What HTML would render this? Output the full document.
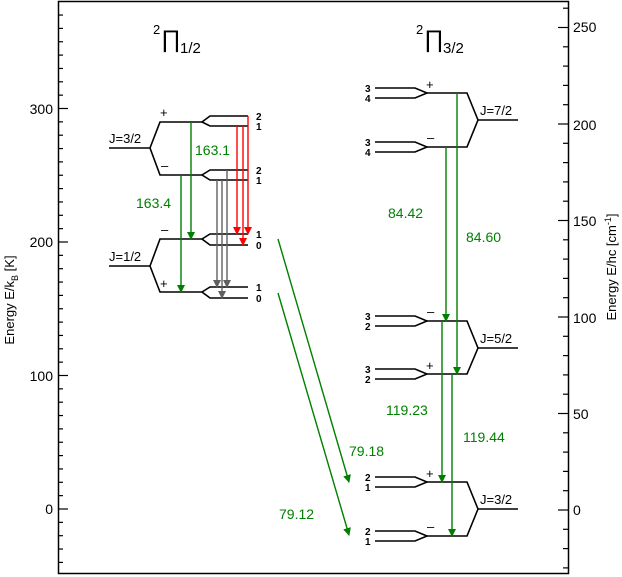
<!DOCTYPE html>
<html><head><meta charset="utf-8"><style>
html,body{margin:0;padding:0;background:#fff;}
svg{display:block;font-family:"Liberation Sans",sans-serif;}
</style></head><body>
<svg id="s" width="622" height="577" viewBox="0 0 622 577" xmlns="http://www.w3.org/2000/svg">
<defs>
<marker id="ag" markerWidth="8" markerHeight="8" refX="7" refY="4" orient="auto" markerUnits="userSpaceOnUse" viewBox="0 0 8 8"><path d="M0,0 L8,4 L0,8 Z" fill="#008000"/></marker>
<marker id="ar" markerWidth="8" markerHeight="8" refX="7" refY="4" orient="auto" markerUnits="userSpaceOnUse" viewBox="0 0 8 8"><path d="M0,0 L8,4 L0,8 Z" fill="#ff0000"/></marker>
<marker id="ak" markerWidth="8" markerHeight="8" refX="7" refY="4" orient="auto" markerUnits="userSpaceOnUse" viewBox="0 0 8 8"><path d="M0,0 L8,4 L0,8 Z" fill="#606060"/></marker>
<marker id="ad" markerWidth="8" markerHeight="8" refX="7" refY="4" orient="auto" markerUnits="userSpaceOnUse" viewBox="0 0 8 8"><path d="M0,0 L8,4 L0,8 Z" fill="#008000"/></marker>
</defs>
<rect x="58.5" y="1.5" width="510" height="572" fill="none" stroke="#000" stroke-width="1.5"/>
<g id="ticks" stroke="#000" stroke-width="1.2"></g>
<g font-size="14" fill="#000" text-anchor="end">
<text x="53" y="114">300</text><text x="53" y="247">200</text><text x="53" y="381">100</text><text x="53" y="514">0</text>
</g>
<g font-size="14" fill="#000">
<text x="573" y="32">250</text><text x="573" y="130">200</text><text x="573" y="226">150</text><text x="573" y="323">100</text><text x="573" y="419">50</text><text x="573" y="515">0</text>
</g>
<text transform="translate(14,300) rotate(-90)" font-size="13" text-anchor="middle">Energy E/k<tspan font-size="9" dy="4">B</tspan><tspan dy="-4"> [K]</tspan></text>
<text transform="translate(616,267) rotate(-90)" font-size="13" text-anchor="middle">Energy E/hc [cm<tspan font-size="9" dy="-5">-1</tspan><tspan dy="5">]</tspan></text>

<g>
<text x="153" y="34" font-size="13">2</text><text x="161" y="47" font-size="24">∏</text><text x="180" y="53" font-size="15">1/2</text>
<text x="416" y="34" font-size="13">2</text><text x="424" y="47" font-size="24">∏</text><text x="443" y="53" font-size="15">3/2</text>
</g>

<g stroke="#000" stroke-width="1.6" fill="none">
<path d="M109,148 H150 L160,122 H202 M150,148 L160,175 H202"/>
<path d="M248,116 H210 L202,122 L210,126 H248"/>
<path d="M248,170 H210 L202,175 L210,180 H248"/>
<path d="M109,266 H150 L160,239 H202 M150,266 L160,292 H202"/>
<path d="M248,234 H210 L202,239 L210,245 H248"/>
<path d="M248,287 H210 L202,292 L210,298 H248"/>
<path d="M518,120 H478 L467,93 H427 M478,120 L467,147 H427"/>
<path d="M375,88 H415 L427,93 L415,98 H375"/>
<path d="M375,142 H415 L427,147 L415,152 H375"/>
<path d="M518,348 H478 L467,321 H427 M478,348 L467,374 H427"/>
<path d="M375,316 H415 L427,321 L415,326 H375"/>
<path d="M375,369 H415 L427,374 L415,379 H375"/>
<path d="M518,509 H478 L467,482 H427 M478,509 L467,536 H427"/>
<path d="M375,477 H415 L427,482 L415,487 H375"/>
<path d="M375,531 H415 L427,536 L415,541 H375"/>
</g>

<g font-size="13" fill="#000">
<text x="109" y="143">J=3/2</text><text x="109" y="261">J=1/2</text>
<text x="480" y="115">J=7/2</text><text x="480" y="343">J=5/2</text><text x="480" y="504">J=3/2</text>
</g>
<g font-size="10" fill="#000" font-weight="bold">
<text x="256" y="120">2</text><text x="256" y="130">1</text>
<text x="256" y="174">2</text><text x="256" y="184">1</text>
<text x="256" y="238">1</text><text x="256" y="249">0</text>
<text x="256" y="291">1</text><text x="256" y="302">0</text>
<text x="365" y="92">3</text><text x="365" y="102">4</text>
<text x="365" y="146">3</text><text x="365" y="156">4</text>
<text x="365" y="320">3</text><text x="365" y="330">2</text>
<text x="365" y="373">3</text><text x="365" y="383">2</text>
<text x="365" y="481">2</text><text x="365" y="491">1</text>
<text x="365" y="535">2</text><text x="365" y="545">1</text>
</g>
<g font-size="13" fill="#000">
<text x="160" y="117">+</text><text x="161" y="170">–</text><text x="161" y="234">–</text><text x="160" y="288">+</text>
<text x="426" y="89">+</text><text x="427" y="142">–</text><text x="427" y="316">–</text><text x="426" y="370">+</text>
<text x="426" y="478">+</text><text x="427" y="531">–</text>
</g>

<g stroke="#008000" stroke-width="1.4">
<line x1="191" y1="122" x2="191" y2="239" marker-end="url(#ag)"/>
<line x1="181" y1="175" x2="181" y2="292" marker-end="url(#ag)"/>
<line x1="446" y1="147" x2="446" y2="321" marker-end="url(#ag)"/>
<line x1="457" y1="93" x2="457" y2="374" marker-end="url(#ag)"/>
<line x1="442" y1="321" x2="442" y2="482" marker-end="url(#ag)"/>
<line x1="452" y1="374" x2="452" y2="536" marker-end="url(#ag)"/>
<line x1="278" y1="239" x2="349" y2="482" marker-end="url(#ad)"/>
<line x1="278" y1="293" x2="349" y2="535" marker-end="url(#ad)"/>
</g>
<g stroke="#ff0000" stroke-width="1.4">
<line x1="237" y1="126" x2="237" y2="234" marker-end="url(#ar)"/>
<line x1="243" y1="126" x2="243" y2="245" marker-end="url(#ar)"/>
<line x1="248" y1="116" x2="248" y2="234" marker-end="url(#ar)"/>
</g>
<g stroke="#606060" stroke-width="1.4">
<line x1="217" y1="180" x2="217" y2="287" marker-end="url(#ak)"/>
<line x1="222" y1="180" x2="222" y2="298" marker-end="url(#ak)"/>
<line x1="227" y1="170" x2="227" y2="287" marker-end="url(#ak)"/>
</g>
<g font-size="14" fill="#008000">
<text x="195" y="155">163.1</text><text x="136" y="208">163.4</text>
<text x="388" y="218">84.42</text><text x="466" y="242">84.60</text>
<text x="386" y="415">119.23</text><text x="463" y="442">119.44</text>
<text x="349" y="456">79.18</text><text x="279" y="519">79.12</text>
</g>
</svg>
<script>
var g=document.getElementById('ticks'),h='';
for(var v=-40;v<=370;v+=10){var y=509-1.335*v;var L=(v%100==0)?10:5;h+='<line x1="58" y1="'+y+'" x2="'+(58+L)+'" y2="'+y+'"/>';}
for(var v=-30;v<=260;v+=10){var y=510-1.93*v;var L=(v%50==0)?10:5;h+='<line x1="568" y1="'+y+'" x2="'+(568-L)+'" y2="'+y+'"/>';}
g.innerHTML=h;
</script>
</body></html>
